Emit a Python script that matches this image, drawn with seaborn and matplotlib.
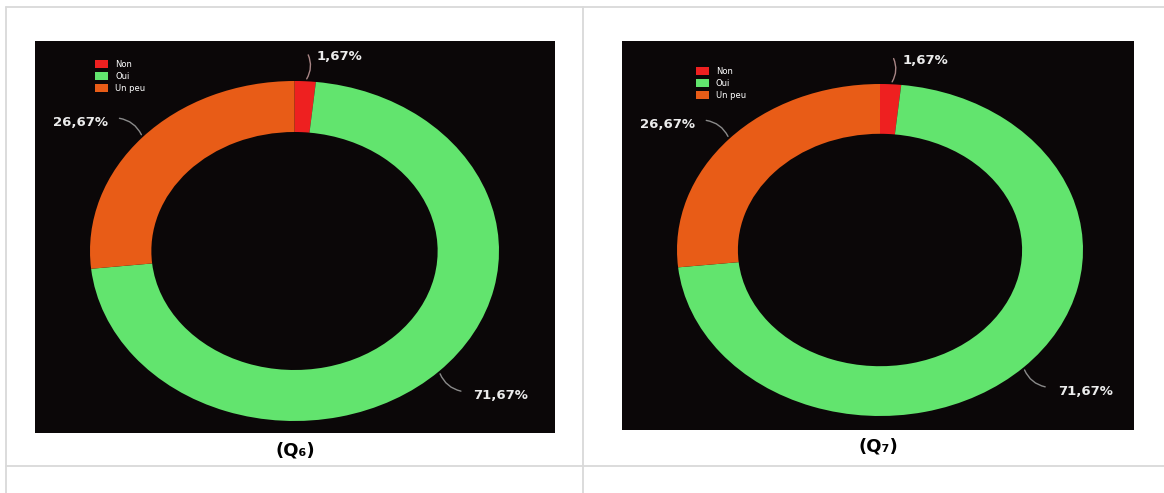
import numpy as np
import matplotlib
matplotlib.use("Agg")
import matplotlib.pyplot as plt
from matplotlib.lines import Line2D
import seaborn as sns

# Survey answers for the two questions
categories = ["Non", "Oui", "Un peu"]
q6_values = [1.67, 71.67, 26.67]
q7_values = [1.67, 71.67, 26.67]
captions = ["(Q\u2086)", "(Q\u2087)"]

sns.set_theme(style="white")
plt.rcParams["font.family"] = ["DejaVu Sans"]

palette = sns.color_palette(["#ee2020", "#62e46e", "#e85c17"])
BG = "#0b0708"
W, H = 1164, 493

fig = plt.figure(figsize=(W / 100, H / 100), dpi=100)
fig.patch.set_facecolor("white")


def fx(px):
    return px / W


def fy(py):
    return 1 - py / H


# table grid
grid_kw = dict(color="#d9d9d9", lw=1.3, transform=fig.transFigure)
fig.add_artist(Line2D([fx(6), 1], [fy(7), fy(7)], **grid_kw))
fig.add_artist(Line2D([fx(6), fx(6)], [fy(7), 0], **grid_kw))
fig.add_artist(Line2D([fx(583), fx(583)], [fy(7), 0], **grid_kw))
fig.add_artist(Line2D([fx(6), 1], [fy(466), fy(466)], **grid_kw))

# panel geometry (pixel boxes, donut centre and radii)
panels = [
    dict(box=(35, 41, 555, 433), c=(294.5, 251), r=(204.5, 170),
         leg=(95, 60), cap=(295, 450), values=q6_values),
    dict(box=(622, 41, 1134, 430), c=(880, 250), r=(203, 166),
         leg=(696, 67), cap=(878, 447), values=q7_values),
]


def fmt(v):
    return f"{v:.2f}%".replace(".", ",")


for i, p in enumerate(panels):
    x0, y0, x1, y1 = p["box"]
    ax = fig.add_axes([fx(x0), fy(y1), fx(x1 - x0), (y1 - y0) / H])
    wedges, _ = ax.pie(p["values"], colors=palette, startangle=90,
                       counterclock=False, radius=1.0,
                       wedgeprops=dict(width=0.3, edgecolor="none", linewidth=0))
    ax.set_frame_on(True)
    ax.set_facecolor(BG)
    ax.set_aspect("auto")
    cx, cy = p["c"]
    rx, ry = p["r"]
    ax.set_xlim(-(cx - x0) / rx, (x1 - cx) / rx)
    ax.set_ylim(-(y1 - cy) / ry, (cy - y0) / ry)
    for s in ax.spines.values():
        s.set_visible(False)
    ax.set_xticks([])
    ax.set_yticks([])

    # percentage labels with curved leader lines
    for w, v in zip(wedges, p["values"]):
        a = np.deg2rad((w.theta1 + w.theta2) / 2)
        start = (np.cos(a), np.sin(a))
        end = (1.17 * np.cos(a), 1.17 * np.sin(a))
        right = np.cos(a) >= 0
        lc = "#a88585" if v < 5 else "#8a8a8a"
        ax.annotate("", xy=start, xytext=end,
                    arrowprops=dict(arrowstyle="-", color=lc, lw=1.0,
                                    connectionstyle="arc3,rad=-0.3"))
        ax.annotate(fmt(v), xy=end, xytext=(7 if right else -6, -3),
                    textcoords="offset points",
                    ha="left" if right else "right", va="center",
                    color="#ececec", fontsize=9.5, fontweight="bold")

    # legend in the upper-left corner
    lx, ly = p["leg"]
    ax.legend(wedges, categories,
              loc="upper left",
              bbox_to_anchor=((lx - x0) / (x1 - x0), 1 - (ly - y0) / (y1 - y0)),
              frameon=False, fontsize=6, labelcolor="white",
              handlelength=1.5, handleheight=1.1, handletextpad=0.9,
              labelspacing=0.35, borderpad=0, borderaxespad=0)

    fig.text(fx(p["cap"][0]), fy(p["cap"][1]), captions[i],
             ha="center", va="center", fontsize=13, fontweight="bold",
             color="black")

fig.savefig("out.png", dpi=100, facecolor=fig.get_facecolor())
